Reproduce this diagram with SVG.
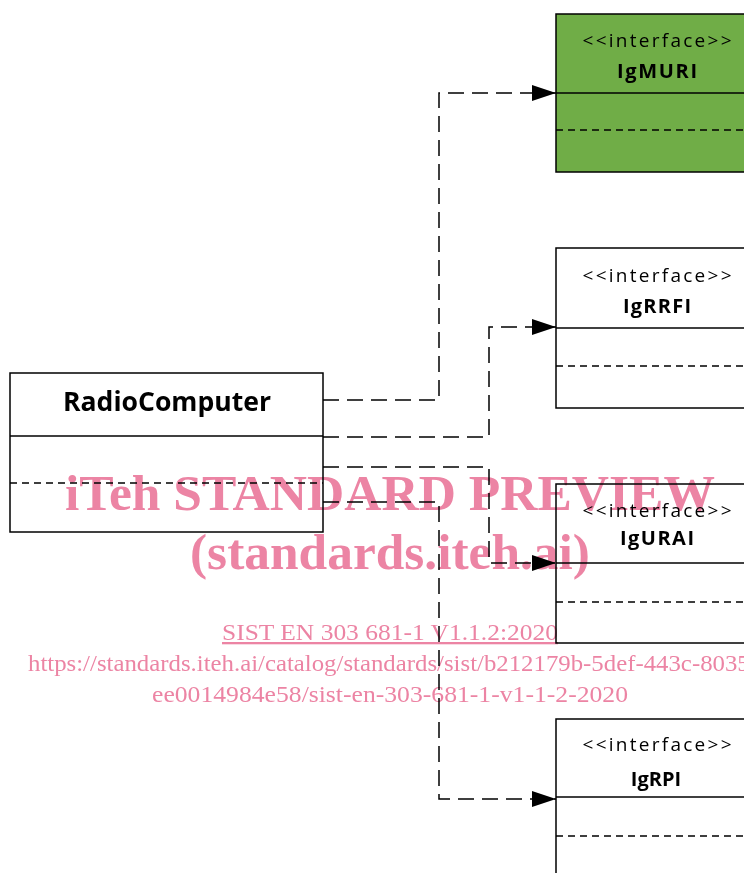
<svg xmlns="http://www.w3.org/2000/svg" width="744" height="873" viewBox="0 0 744 873">
<style>
.box{fill:#fff;stroke:#000;stroke-width:1.5}
.green{fill:#70ad47}
.div{stroke:#000;stroke-width:1.5}
.dd{stroke:#000;stroke-width:1.5;stroke-dasharray:7,5}
.conn{fill:none;stroke:#000;stroke-width:1.5;stroke-dasharray:16,8}
.st{font-family:"Open Sans","Liberation Sans",sans-serif;font-size:19px;text-anchor:middle}
.nm{font-family:"Open Sans","Liberation Sans",sans-serif;font-weight:bold;font-size:20px;text-anchor:middle}
.wm{font-family:"Liberation Serif","Times New Roman",serif;fill:#ec84a4;text-anchor:middle;mix-blend-mode:multiply}
</style>
<defs>
<marker id="arr" markerWidth="24" markerHeight="18" refX="24" refY="9" orient="auto" markerUnits="userSpaceOnUse">
<path d="M0,1 L24,9 L0,17 Z" fill="#000"/>
</marker>
</defs>
<rect width="744" height="873" fill="#fff"/>
<g id="RadioComputer">
<rect class="box" x="10" y="373" width="313" height="159"/>
<line class="div" x1="10" y1="436" x2="323" y2="436"/>
<line class="dd" x1="10" y1="483" x2="323" y2="483"/>
<text x="167" y="411" class="nm" style="font-size:26px" textLength="208" lengthAdjust="spacingAndGlyphs">RadioComputer</text>
</g>
<g id="IgMURI">
<rect class="box green" x="556" y="14" width="200" height="158"/>
<line class="div" x1="556" y1="93" x2="744" y2="93"/>
<line class="dd" x1="556" y1="130" x2="744" y2="130"/>
<text x="657" y="47" class="st" textLength="149" lengthAdjust="spacing">&lt;&lt;interface&gt;&gt;</text>
<text x="657" y="78" class="nm" textLength="80" lengthAdjust="spacing">IgMURI</text>
</g>
<g id="IgRRFI">
<rect class="box" x="556" y="248" width="200" height="160"/>
<line class="div" x1="556" y1="328" x2="744" y2="328"/>
<line class="dd" x1="556" y1="366" x2="744" y2="366"/>
<text x="657" y="282" class="st" textLength="149" lengthAdjust="spacing">&lt;&lt;interface&gt;&gt;</text>
<text x="657" y="313" class="nm" textLength="68" lengthAdjust="spacing">IgRRFI</text>
</g>
<g id="IgURAI">
<rect class="box" x="556" y="484" width="200" height="159"/>
<line class="div" x1="556" y1="563" x2="744" y2="563"/>
<line class="dd" x1="556" y1="602" x2="744" y2="602"/>
<text x="657" y="517" class="st" textLength="149" lengthAdjust="spacing">&lt;&lt;interface&gt;&gt;</text>
<text x="657" y="545" class="nm" textLength="74" lengthAdjust="spacing">IgURAI</text>
</g>
<g id="IgRPI">
<rect class="box" x="556" y="719" width="200" height="170"/>
<line class="div" x1="556" y1="797" x2="744" y2="797"/>
<line class="dd" x1="556" y1="836" x2="744" y2="836"/>
<text x="657" y="751" class="st" textLength="149" lengthAdjust="spacing">&lt;&lt;interface&gt;&gt;</text>
<text x="656" y="786" class="nm">IgRPI</text>
</g>
<g id="connectors">
<path class="conn" d="M323,400 H439 V93 H556" marker-end="url(#arr)"/>
<path class="conn" d="M323,437 H489 V327 H556" marker-end="url(#arr)"/>
<path class="conn" d="M323,467 H489 V563 H556" marker-end="url(#arr)"/>
<path class="conn" d="M323,502 H439 V799 H556" marker-end="url(#arr)"/>
</g>
<g id="watermark">
<text class="wm" x="390" y="510" style="font-size:50px;font-weight:bold" textLength="650" lengthAdjust="spacingAndGlyphs">iTeh STANDARD PREVIEW</text>
<text class="wm" x="390" y="569" style="font-size:50px;font-weight:bold" textLength="400" lengthAdjust="spacingAndGlyphs">(standards.iteh.ai)</text>
<text class="wm" x="390" y="640" style="font-size:23px;text-decoration:underline" textLength="336" lengthAdjust="spacingAndGlyphs">SIST EN 303 681-1 V1.1.2:2020</text>
<text class="wm" x="28" y="671" style="font-size:23px;text-anchor:start" textLength="730" lengthAdjust="spacingAndGlyphs">https://standards.iteh.ai/catalog/standards/sist/b212179b-5def-443c-8035-</text>
<text class="wm" x="390" y="702" style="font-size:23px" textLength="476" lengthAdjust="spacingAndGlyphs">ee0014984e58/sist-en-303-681-1-v1-1-2-2020</text>
</g>
</svg>
